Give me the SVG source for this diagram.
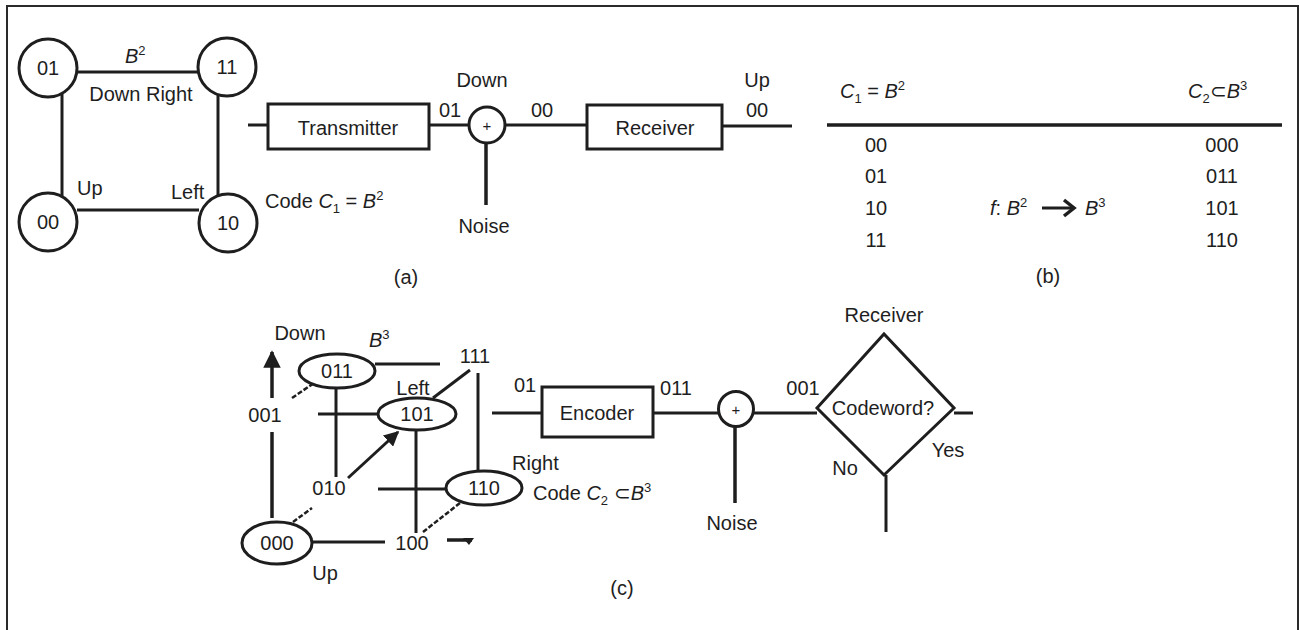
<svg xmlns="http://www.w3.org/2000/svg" width="1299" height="630" viewBox="0 0 1299 630">
<defs>
<style>
.ln{stroke:#1e1e1e;stroke-width:3;fill:none;stroke-linecap:butt}
.th{stroke:#1e1e1e;stroke-width:3.5;fill:none}
.sh{stroke:#1e1e1e;stroke-width:3;fill:#fff}
.ds{stroke:#1e1e1e;stroke-width:2.5;fill:none;stroke-dasharray:5 2}
text{font-family:"Liberation Sans",Arial,sans-serif;font-size:20px;fill:#1e1e1e}
.m{text-anchor:middle}
.i{font-style:italic}
.s{font-size:13px}
</style>
<marker id="ah" viewBox="0 0 10 10" refX="9" refY="5" markerWidth="5" markerHeight="5" orient="auto" markerUnits="strokeWidth">
<path d="M0,0 L10,5 L0,10 Z" fill="#1e1e1e"/>
</marker>
</defs>
<rect x="7" y="6" width="1291" height="640" fill="#fff" stroke="#2a2a2a" stroke-width="2"/>

<!-- (a) left: square B^2 -->
<g id="connectors-a">
<path class="ln" d="M77,72 H198"/>
<path class="ln" d="M62,94 V196"/>
<path class="ln" d="M218,95 V196"/>
<path class="ln" d="M77,210 H199"/>
<path class="ln" d="M248,125 H268"/>
<path class="ln" d="M429,125 H469"/>
<path class="ln" d="M505,125 H587"/>
<path class="th" d="M486,143 V205"/>
<path class="ln" d="M722,126 H792"/>
</g>
<g id="n01"><circle class="sh" cx="48" cy="68" r="29"/><text class="m" x="48" y="75">01</text></g>
<g id="n11"><circle class="sh" cx="227" cy="67" r="29"/><text class="m" x="227" y="74">11</text></g>
<g id="n00"><circle class="sh" cx="48" cy="222" r="29"/><text class="m" x="48" y="229">00</text></g>
<g id="n10"><circle class="sh" cx="228" cy="223" r="29"/><text class="m" x="228" y="230">10</text></g>
<text x="125" y="63"><tspan class="i">B</tspan><tspan class="s" dy="-8">2</tspan></text>
<text class="m" x="141" y="101">Down Right</text>
<text x="77" y="195">Up</text>
<text x="171" y="199">Left</text>

<g id="transmitter"><rect class="sh" x="268" y="104" width="161" height="45"/><text class="m" x="348" y="135">Transmitter</text></g>
<g id="adder-a"><circle class="sh" cx="487" cy="125" r="18"/><text class="m" x="487" y="131" style="font-size:15px">+</text></g>
<g id="receiver-a"><rect class="sh" x="587" y="105" width="135" height="44"/><text class="m" x="655" y="135">Receiver</text></g>
<text class="m" x="482" y="87">Down</text>
<text class="m" x="450" y="117">01</text>
<text class="m" x="542" y="117">00</text>
<text class="m" x="484" y="233">Noise</text>
<text class="m" x="757" y="87">Up</text>
<text class="m" x="757" y="117">00</text>
<text x="265" y="208">Code <tspan class="i">C</tspan><tspan class="s" dy="5">1</tspan><tspan dy="-5"> = </tspan><tspan class="i">B</tspan><tspan class="s" dy="-8">2</tspan></text>
<text class="m" x="406" y="284">(a)</text>

<!-- (b) table -->
<g id="table">
<text x="840" y="98"><tspan class="i">C</tspan><tspan class="s" dy="5">1</tspan><tspan dy="-5"> = </tspan><tspan class="i">B</tspan><tspan class="s" dy="-8">2</tspan></text>
<text x="1188" y="98"><tspan class="i">C</tspan><tspan class="s" dy="5">2</tspan><tspan dy="-5">⊂</tspan><tspan class="i">B</tspan><tspan class="s" dy="-8">3</tspan></text>
<path class="th" d="M827,125 H1282"/>
<text class="m" x="876" y="152">00</text>
<text class="m" x="876" y="183">01</text>
<text class="m" x="876" y="215">10</text>
<text class="m" x="876" y="247">11</text>
<text class="m" x="1222" y="152">000</text>
<text class="m" x="1222" y="183">011</text>
<text class="m" x="1222" y="215">101</text>
<text class="m" x="1222" y="247">110</text>
<text x="990" y="215"><tspan class="i">f</tspan>: <tspan class="i">B</tspan><tspan class="s" dy="-8">2</tspan></text>
<path class="ln" d="M1042,208 H1073"/>
<path class="th" d="M1064,200 L1074,208 L1064,216"/>
<text x="1085" y="215"><tspan class="i">B</tspan><tspan class="s" dy="-8">3</tspan></text>
<text class="m" x="1048" y="283">(b)</text>
</g>

<!-- (c) cube -->
<g id="connectors-c">
<path class="th" d="M272,518 V432"/>
<path class="th" d="M272,398 V352" marker-end="url(#ah)"/>
<path class="ln" d="M375,364 H440"/>
<path class="ln" d="M478,373 V472"/>
<path class="ln" d="M470,370 L433,398"/>
<path class="ln" d="M318,414 H378"/>
<path class="ln" d="M336,388 V477"/>
<path class="ds" d="M292,398 L314,383"/>
<path class="ln" d="M348,478 L398,432" marker-end="url(#ah)"/>
<path class="ln" d="M416,430 V533"/>
<path class="ln" d="M378,489 H446"/>
<path class="ds" d="M423,532 L460,503"/>
<path class="ds" d="M293,522 L312,508"/>
<path class="ln" d="M312,542 H385"/>
<path class="th" d="M447,540 H472"/>
<path d="M463,538 L474,538 L469,545 Z" fill="#1e1e1e"/>
</g>
<g id="c011"><ellipse class="sh" cx="337" cy="371" rx="38" ry="17"/><text class="m" x="337" y="378">011</text></g>
<g id="c101"><ellipse class="sh" cx="417" cy="414" rx="39" ry="16"/><text class="m" x="417" y="421">101</text></g>
<g id="c110"><ellipse class="sh" cx="484" cy="488" rx="38" ry="17"/><text class="m" x="484" y="495">110</text></g>
<g id="c000"><ellipse class="sh" cx="277" cy="543" rx="35" ry="21"/><text class="m" x="277" y="550">000</text></g>
<text class="m" x="300" y="340">Down</text>
<text x="369" y="347"><tspan class="i">B</tspan><tspan class="s" dy="-8">3</tspan></text>
<text class="m" x="475" y="363">111</text>
<text class="m" x="413" y="395">Left</text>
<text class="m" x="265" y="422">001</text>
<text class="m" x="329" y="495">010</text>
<text class="m" x="412" y="550">100</text>
<text x="512" y="470">Right</text>
<text x="533" y="500">Code <tspan class="i">C</tspan><tspan class="s" dy="5">2</tspan><tspan dy="-5"> ⊂</tspan><tspan class="i">B</tspan><tspan class="s" dy="-8">3</tspan></text>
<text class="m" x="325" y="580">Up</text>

<!-- (c) encoder chain -->
<g id="connectors-c2">
<path class="ln" d="M492,413 H542"/>
<path class="ln" d="M653,413 H718"/>
<path class="th" d="M735,426 V503"/>
<path class="ln" d="M754,413 H817"/>
<path class="ln" d="M954,413 H973"/>
<path class="ln" d="M886,475 V532"/>
</g>
<g id="encoder"><rect class="sh" x="542" y="387" width="111" height="50"/><text class="m" x="597" y="420">Encoder</text></g>
<g id="adder-c"><circle class="sh" cx="736" cy="409" r="17.5"/><text class="m" x="736" y="415" style="font-size:15px">+</text></g>
<g id="decision"><path class="sh" d="M817,408 L884,334 L954,408 L884,475 Z"/><text class="m" x="883" y="415">Codeword?</text></g>
<text class="m" x="525" y="392">01</text>
<text class="m" x="676" y="395">011</text>
<text class="m" x="732" y="530">Noise</text>
<text class="m" x="803" y="395">001</text>
<text class="m" x="884" y="322">Receiver</text>
<text class="m" x="948" y="457">Yes</text>
<text class="m" x="845" y="475">No</text>
<text class="m" x="622" y="595">(c)</text>
</svg>
